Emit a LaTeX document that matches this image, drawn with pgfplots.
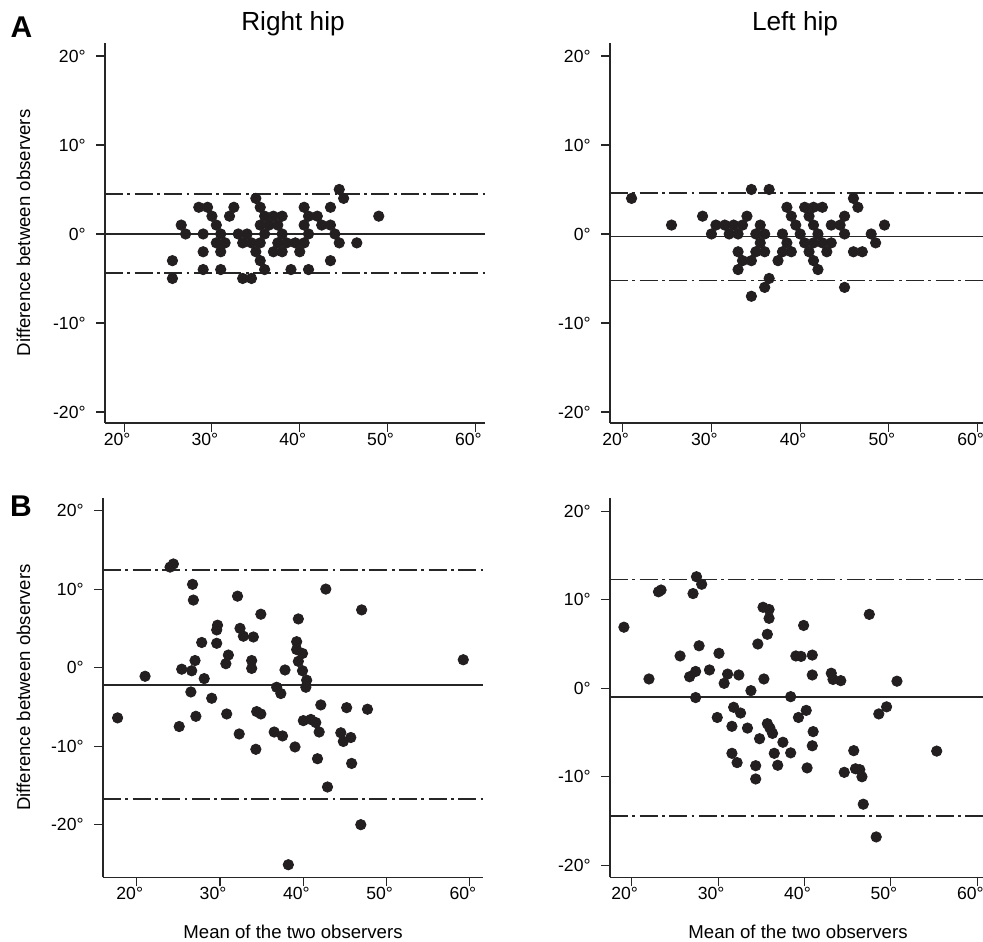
\documentclass[border=0pt]{standalone}
\usepackage{pgfplots}
\pgfplotsset{compat=1.18}
\usepackage{fontspec}
\setmainfont{Liberation Sans}

\definecolor{dot}{HTML}{231F20}
\definecolor{ax}{HTML}{262626}

\pgfplotsset{
  baplot/.style={
    scale only axis,
    axis lines=left,
    axis line style={-, line width=0.65pt, ax},
    tick align=outside,
    major tick length=4.5pt,
    tick style={line width=0.55pt, ax},
    xtick={20,30,40,50,60},
    xticklabels={20°,30°,40°,50°,60°},
    ytick={-20,-10,0,10,20},
    yticklabels={-20°,-10°,0°,10°,20°},
    ticklabel style={font=\fontsize{8.8}{10}\selectfont},
    xticklabel style={anchor=north, inner sep=0pt, xshift=-3.5pt, yshift=-0.5pt},
    yticklabel style={anchor=east, inner sep=0pt, xshift=-5pt},
    clip=false,
  },
  pts/.style={only marks, mark=*, mark size=2.6pt, mark options={fill=dot, draw=dot}, color=dot},
  mean/.style={no marks, line width=0.85pt, color=ax},
  loa/.style={no marks, line width=0.85pt, color=ax, dash pattern=on 9pt off 2.2pt on 1.4pt off 2.2pt},
}

\begin{document}
\begin{tikzpicture}
% A, right hip
\begin{axis}[baplot, at={(52.5pt,259pt)}, anchor=south west, width=190pt, height=190pt,
  xmin=17.82, xmax=61.1, ymin=-21.24, ymax=21.46]
\addplot[mean] coordinates {(17.82,0.02) (61.1,0.02)};
\addplot[loa] coordinates {(17.82,4.46) (61.1,4.46)};
\addplot[loa] coordinates {(17.82,-4.42) (61.1,-4.42)};
\addplot[pts] coordinates {
(25.5,-3)(25.5,-5)(26.5,1)(27,0)
(28.5,3)(29.5,3)(30,2)(30.5,1)(31,0)(30.5,-1)(31.5,-1)(31,-2)(31,-4)
(29,0)(29,-2)(29,-4)
(32.5,3)(32,2)
(33,0)(34,0)(33.5,-1)(34.5,-1)(35,-2)(35.5,-3)(36,-4)
(33.5,-5)(34.5,-5)
(35,4)(35.5,3)(36,2)(35.5,1)(36,0)(35.5,-1)(37,2)(38,2)(36.5,1)(37.5,1)(38,0)(37.5,-1)(38.5,-1)(37,-2)(38,-2)(39,-4)
(39.5,-1)(40,-2)(40.5,-1)(40.5,3)(41,2)(40.5,1)(41,0)(41,-4)
(42,2)(42.5,1)(43.5,3)(43.5,1)(44,0)(44.5,-1)(43.5,-3)
(44.5,5)(45,4)
(46.5,-1)(49,2)
};
\end{axis}
% A, left hip
\begin{axis}[baplot, at={(305pt,259pt)}, anchor=south west, width=186.5pt, height=190pt,
  xmin=18.57, xmax=60.6, ymin=-21.24, ymax=21.46]
\addplot[mean] coordinates {(18.57,-0.3) (60.6,-0.3)};
\addplot[loa] coordinates {(18.57,4.64) (60.6,4.64)};
\addplot[loa] coordinates {(18.57,-5.24) (60.6,-5.24)};
\addplot[pts] coordinates {
(21,4)(25.5,1)(29,2)(30,0)(30.5,1)(31.5,1)(32,0)(32.5,1)(33,0)(33.5,1)(34,2)
(33,-2)(33.5,-3)(33,-4)(34.5,-3)(34.5,5)(36.5,5)
(35.5,1)(35,0)(36,0)(35.5,-1)(35,-2)(36,-2)
(36.5,-5)(36,-6)(34.5,-7)
(38,0)(38.5,-1)(38,-2)(39,-2)(37.5,-3)
(38.5,3)(39,2)(39.5,1)(40,0)
(40.5,3)(41.5,3)(42.5,3)(41,2)(41.5,1)(42,0)(40.5,-1)(41.5,-1)(41,-2)(41.5,-3)(42,-4)
(42.5,-1)(43.5,-1)(43,-2)
(43.5,1)(44.5,1)(45,2)(45,0)
(46,4)(46.5,3)(46,-2)(47,-2)(45,-6)
(48,0)(48.5,-1)(49.5,1)
};
\end{axis}
% B, right hip
\begin{axis}[baplot, at={(51.5pt,31.85pt)}, anchor=south west, width=190pt, height=189.65pt,
  xmin=15.95, xmax=61.57, ymin=-26.7, ymax=21.6]
\addplot[mean] coordinates {(15.95,-2.17) (61.57,-2.17)};
\addplot[loa] coordinates {(15.95,12.4) (61.57,12.4)};
\addplot[loa] coordinates {(15.95,-16.7) (61.57,-16.7)};
\addplot[pts] coordinates {
(24.0,12.8)(24.4,13.2)(26.7,10.6)(26.8,8.6)(32.1,9.1)(42.7,10.0)(34.9,6.8)(47.0,7.35)
(29.7,5.4)(29.6,4.8)(32.4,5.0)(32.8,4.0)(34.0,3.9)(27.8,3.2)(29.6,3.1)
(39.4,6.2)(39.2,3.3)(39.2,2.3)(39.9,1.8)(31.0,1.6)(30.7,0.5)
(27.0,0.9)(33.8,0.9)(33.8,-0.1)(39.4,0.8)(39.9,-0.4)(40.4,-1.6)(40.3,-2.5)
(25.4,-0.2)(26.6,-0.4)(28.1,-1.4)(21.0,-1.1)(37.8,-0.3)(36.8,-2.5)(37.3,-3.3)
(26.5,-3.1)(29.0,-3.9)(42.1,-4.75)(45.2,-5.1)(47.7,-5.3)
(17.7,-6.4)(25.1,-7.5)(27.1,-6.2)(30.8,-5.9)(32.3,-8.45)(34.4,-5.6)(34.9,-5.9)(34.3,-10.4)
(40.0,-6.75)(40.9,-6.6)(41.5,-7.0)(36.5,-8.2)(37.5,-8.7)(39.0,-10.1)(41.9,-8.2)(41.7,-11.6)(42.9,-15.2)
(44.5,-8.3)(44.8,-9.4)(45.7,-8.9)(45.8,-12.2)(46.9,-20.0)(38.2,-25.1)(59.2,1.0)
};
\end{axis}
% B, left hip
\begin{axis}[baplot, at={(305pt,31.85pt)}, anchor=south west, width=186.5pt, height=189.65pt,
  xmin=17.49, xmax=60.66, ymin=-21.36, ymax=21.5]
\addplot[mean] coordinates {(17.49,-1.0) (60.66,-1.0)};
\addplot[loa] coordinates {(17.49,12.3) (60.66,12.3)};
\addplot[loa] coordinates {(17.49,-14.4) (60.66,-14.4)};
\addplot[pts] coordinates {
(19.1,6.9)(22.0,1.05)(23.1,10.9)(23.4,11.1)(25.6,3.65)(26.7,1.3)(27.4,1.9)(27.1,10.7)(27.5,12.6)(28.1,11.75)
(27.8,4.8)(27.4,-1.05)(29.0,2.07)(30.1,3.95)(30.7,0.56)(31.1,1.6)(32.4,1.5)(31.8,-2.15)(32.6,-2.8)(29.9,-3.3)
(33.8,-0.27)(34.6,5.0)(35.3,1.05)(35.2,9.15)(35.9,8.9)(35.9,7.9)(35.7,6.1)(38.4,-0.95)(39.0,3.65)(39.6,3.6)
(39.9,7.1)(40.9,3.75)(40.9,1.5)(39.3,-3.3)(40.2,-2.5)(43.1,1.7)(43.3,1.0)(44.2,0.86)(47.5,8.35)(48.6,-2.9)
(49.5,-2.1)(50.7,0.8)
(31.6,-4.3)(33.4,-4.5)(35.7,-4.0)(36.0,-4.5)(36.3,-5.1)(34.8,-5.7)(37.5,-6.1)(41.0,-4.9)(40.9,-6.5)
(31.6,-7.35)(32.2,-8.4)(34.35,-8.75)(34.35,-10.25)(36.5,-7.35)(36.9,-8.7)(38.4,-7.3)(40.3,-9.0)
(44.6,-9.5)(45.7,-7.05)(45.9,-9.1)(46.4,-9.2)(46.65,-10.0)(46.8,-13.1)(48.3,-16.8)(55.3,-7.1)
};
\end{axis}
% panel letters, column titles, axis titles
\node[anchor=base, font=\bfseries\fontsize{15}{18}\selectfont] at (10.75pt,451.5pt) {A};
\node[anchor=base, font=\bfseries\fontsize{15}{18}\selectfont] at (10.5pt,212pt) {B};
\node[anchor=base, font=\fontsize{13.1}{15}\selectfont] at (146.5pt,455pt) {Right hip};
\node[anchor=base, font=\fontsize{13.1}{15}\selectfont] at (397.5pt,455pt) {Left hip};
\node[rotate=90, font=\fontsize{9.3}{11}\selectfont] at (11.75pt,354pt) {Difference between observers};
\node[rotate=90, font=\fontsize{9.3}{11}\selectfont] at (11.75pt,126.75pt) {Difference between observers};
\node[anchor=base, font=\fontsize{9.3}{11}\selectfont] at (146.5pt,1.5pt) {Mean of the two observers};
\node[anchor=base, font=\fontsize{9.3}{11}\selectfont] at (399pt,1.5pt) {Mean of the two observers};
\pgfresetboundingbox
\path (0pt,0pt) rectangle (491.5pt,470.5pt);
\end{tikzpicture}
\end{document}
